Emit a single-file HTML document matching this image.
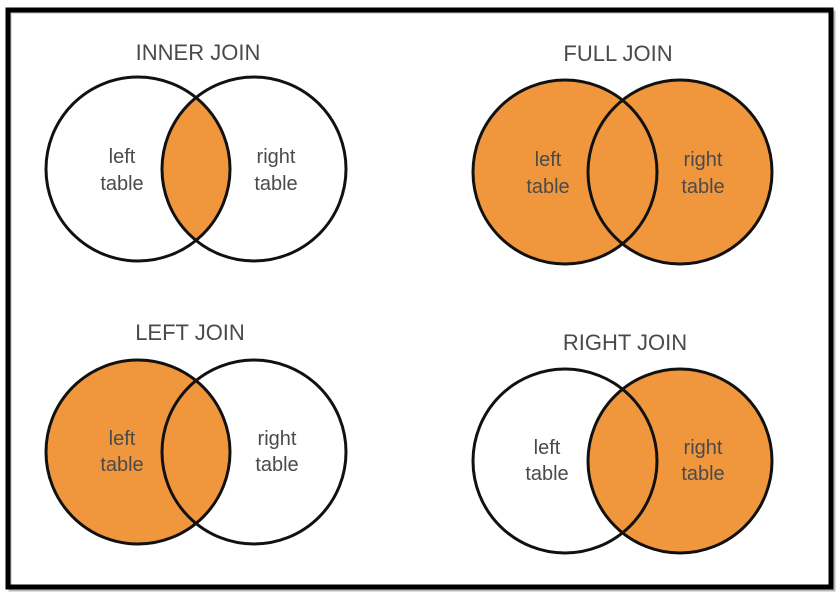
<!DOCTYPE html>
<html><head><meta charset="utf-8"><style>
html,body{margin:0;padding:0;background:#fff;}
svg{display:block;}
text{font-family:"Liberation Sans",sans-serif;fill:#4a4a4a;text-anchor:middle;}
.t{font-size:22px;}
.l{font-size:20px;}
</style></head><body>
<svg width="840" height="594" viewBox="0 0 840 594" xmlns="http://www.w3.org/2000/svg">
<rect x="0" y="0" width="840" height="594" fill="#fff"/>
<rect x="10" y="12" width="824" height="578" fill="none" stroke="#bbb" stroke-width="3"/>
<rect x="8" y="10" width="823" height="577" fill="none" stroke="#000" stroke-width="5"/>
<defs>
<clipPath id="cA"><circle cx="138" cy="169" r="92"/></clipPath>
</defs>

<!-- INNER JOIN -->
<text class="t" x="198" y="60">INNER JOIN</text>
<circle cx="254" cy="169" r="92" fill="#F0973E" clip-path="url(#cA)"/>
<circle cx="138" cy="169" r="92" fill="none" stroke="#111" stroke-width="3"/>
<circle cx="254" cy="169" r="92" fill="none" stroke="#111" stroke-width="3"/>
<text class="l" x="122" y="163">left</text><text class="l" x="122" y="190">table</text>
<text class="l" x="276" y="163">right</text><text class="l" x="276" y="190">table</text>

<!-- FULL JOIN -->
<text class="t" x="618" y="61">FULL JOIN</text>
<circle cx="565" cy="172" r="92" fill="#F0973E"/>
<circle cx="680" cy="172" r="92" fill="#F0973E"/>
<circle cx="565" cy="172" r="92" fill="none" stroke="#111" stroke-width="3"/>
<circle cx="680" cy="172" r="92" fill="none" stroke="#111" stroke-width="3"/>
<text class="l" x="548" y="166">left</text><text class="l" x="548" y="193">table</text>
<text class="l" x="703" y="166">right</text><text class="l" x="703" y="193">table</text>

<!-- LEFT JOIN -->
<text class="t" x="190" y="340">LEFT JOIN</text>
<circle cx="138" cy="452" r="92" fill="#F0973E"/>
<circle cx="138" cy="452" r="92" fill="none" stroke="#111" stroke-width="3"/>
<circle cx="254" cy="452" r="92" fill="none" stroke="#111" stroke-width="3"/>
<text class="l" x="122" y="445">left</text><text class="l" x="122" y="471">table</text>
<text class="l" x="277" y="445">right</text><text class="l" x="277" y="471">table</text>

<!-- RIGHT JOIN -->
<text class="t" x="625" y="350">RIGHT JOIN</text>
<circle cx="680" cy="461" r="92" fill="#F0973E"/>
<circle cx="565" cy="461" r="92" fill="none" stroke="#111" stroke-width="3"/>
<circle cx="680" cy="461" r="92" fill="none" stroke="#111" stroke-width="3"/>
<text class="l" x="547" y="454">left</text><text class="l" x="547" y="480">table</text>
<text class="l" x="703" y="454">right</text><text class="l" x="703" y="480">table</text>
</svg>
</body></html>
